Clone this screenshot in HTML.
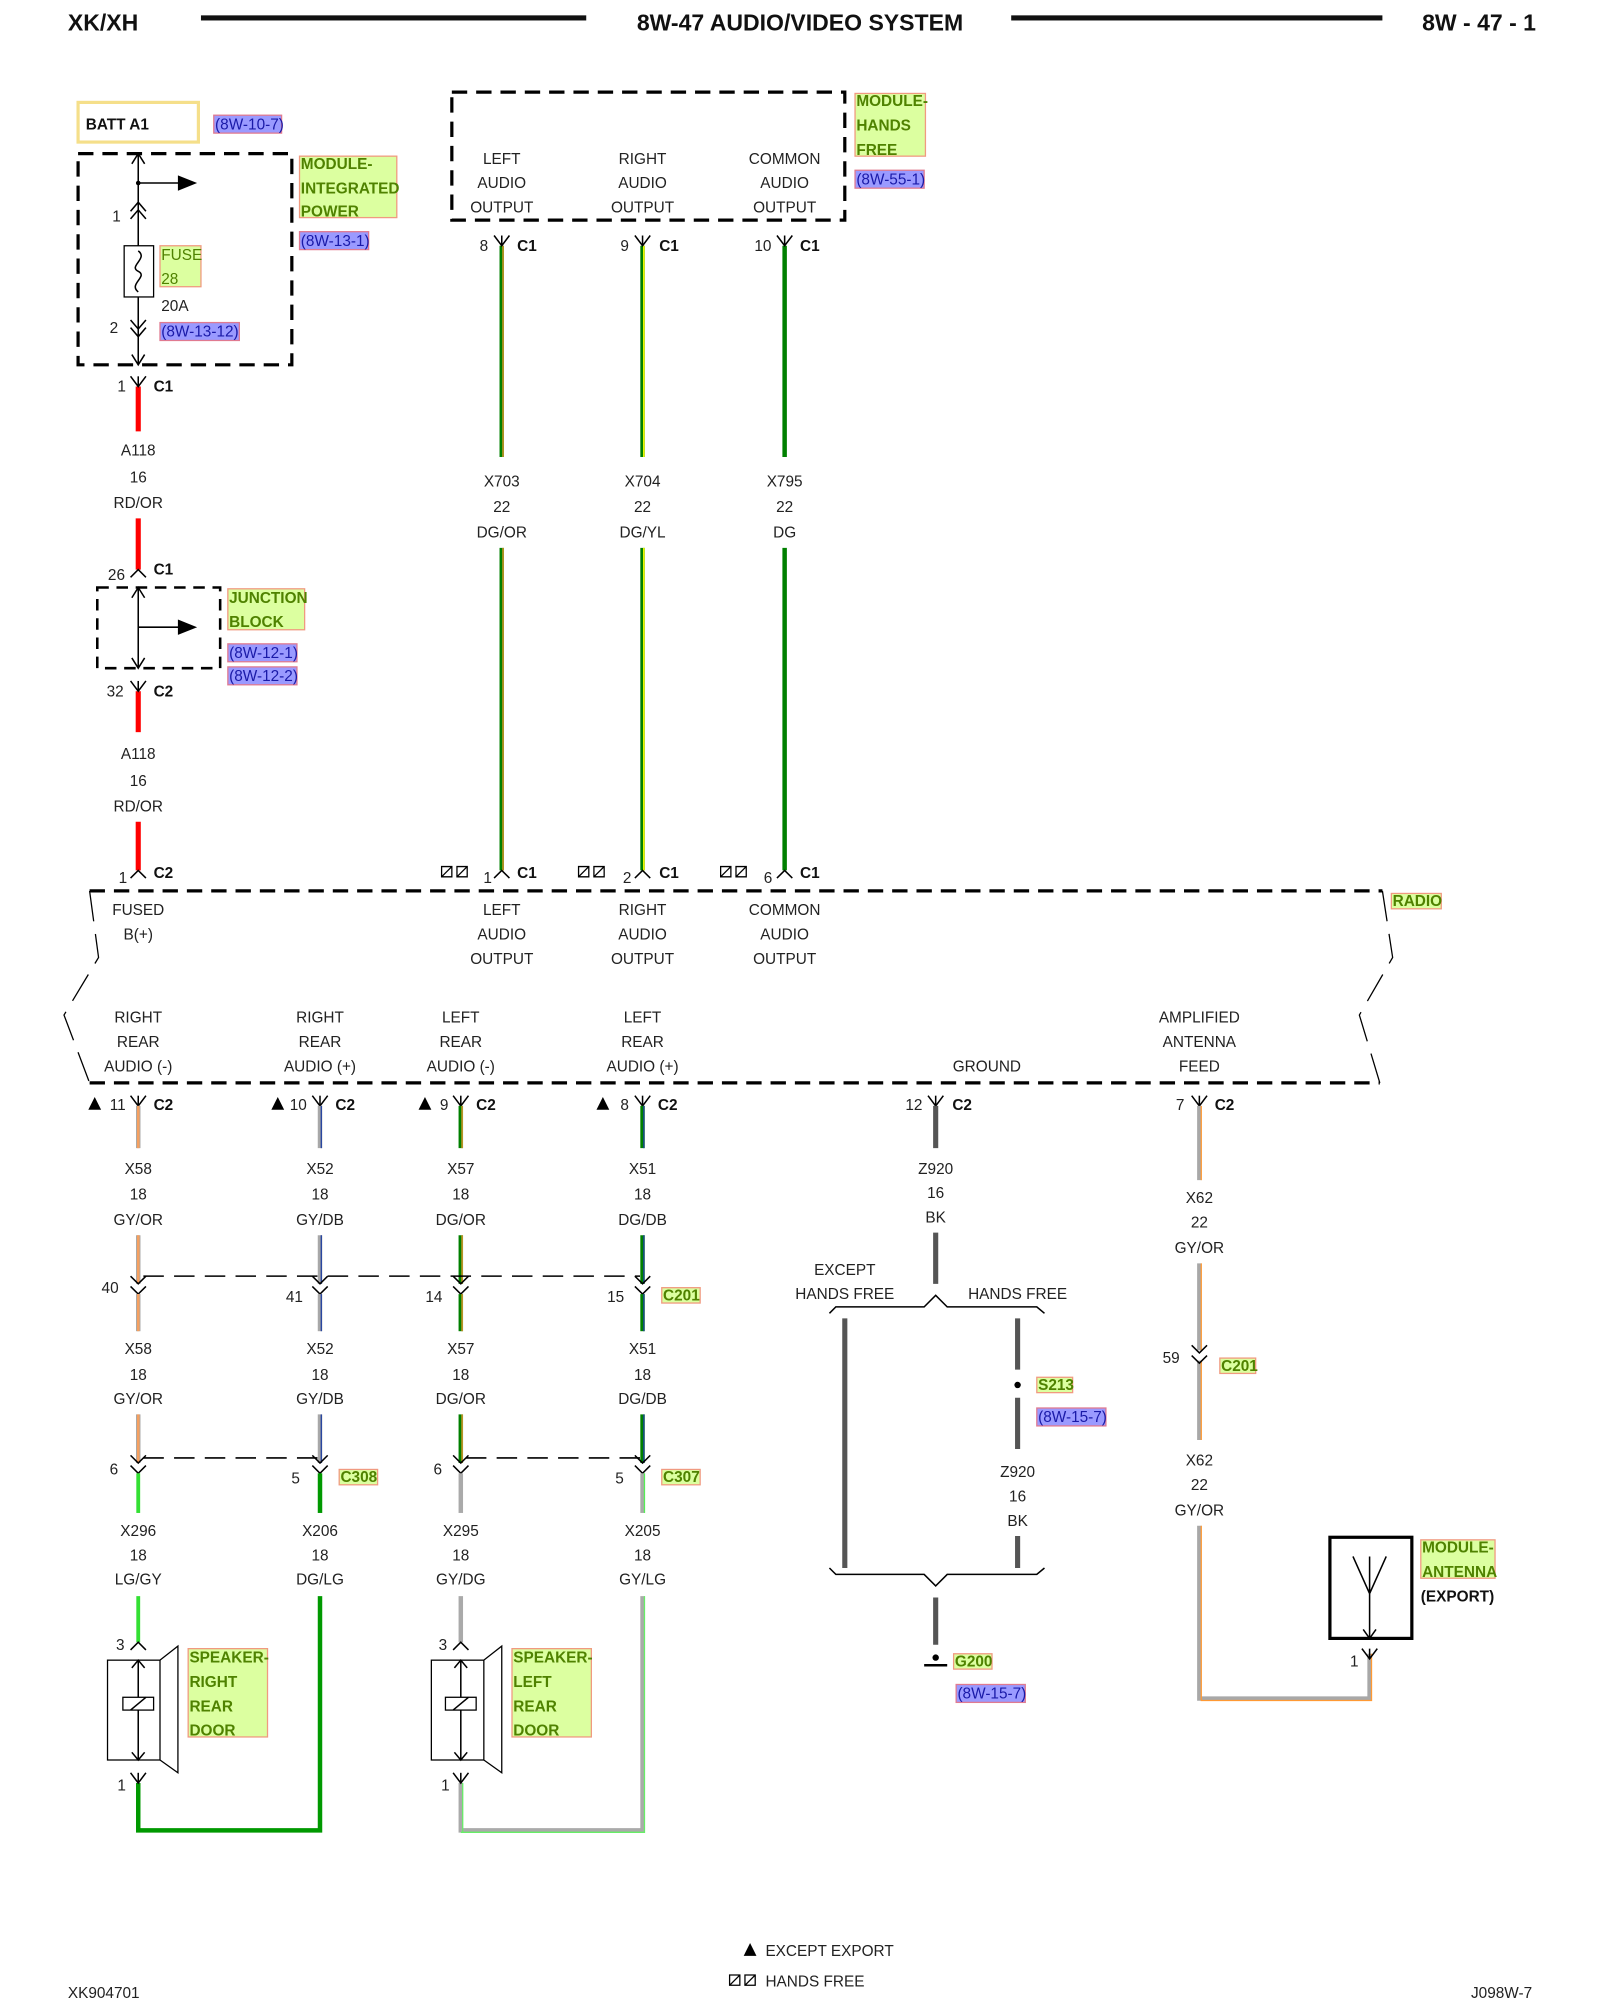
<!DOCTYPE html>
<html><head><meta charset="utf-8"><style>
html,body{margin:0;padding:0;background:#fff}
svg{display:block}
.t{font-family:"Liberation Sans",sans-serif;font-size:12px;fill:#222;text-anchor:middle}
.l{font-family:"Liberation Sans",sans-serif;font-size:12px;fill:#222}
.b{font-family:"Liberation Sans",sans-serif;font-size:12px;font-weight:bold;fill:#111}
.g{font-family:"Liberation Sans",sans-serif;font-size:12px;font-weight:bold;fill:#4f8200}
.p{font-family:"Liberation Sans",sans-serif;font-size:12px;fill:#1a1aa8}
.h{font-family:"Liberation Sans",sans-serif;font-size:18px;font-weight:bold;fill:#111}
.gb{fill:#dcffa0;stroke:#f09a80;stroke-width:1}
.pb{fill:#9a9aff;stroke:#e07a90;stroke-width:1}
.k{stroke:#000;fill:none;stroke-width:1.2}
.dash{stroke:#000;fill:none;stroke-width:2.5;stroke-dasharray:12,7}
</style></head><body>
<svg width="1600" height="2000" viewBox="0 0 1250 1562.5" preserveAspectRatio="none" xmlns="http://www.w3.org/2000/svg">
<defs>
<path id="fy" d="M-6,-8 L0,0 L6,-8" stroke="#000" fill="none" stroke-width="1.2"/>
<path id="my" d="M-6,6 L0,0 L6,6" stroke="#000" fill="none" stroke-width="1.2"/>
<path id="dv" d="M-6,-6 L0,0 L6,-6 M-6,2 L0,8 L6,2" stroke="#000" fill="none" stroke-width="1.2"/>
<path id="hf" d="M0,0 h8 v8 h-8 z M0,8 L8,0" stroke="#000" fill="none" stroke-width="1"/>
</defs>

<!-- header -->
<text class="h" x="53" y="24">XK/XH</text>
<rect x="157" y="12" width="301" height="4" fill="#111"/>
<text class="h" x="625" y="24" text-anchor="middle">8W-47 AUDIO/VIDEO SYSTEM</text>
<rect x="790" y="12" width="290" height="4" fill="#111"/>
<text class="h" x="1200" y="24" text-anchor="end">8W - 47 - 1</text>

<!-- BATT -->
<rect x="61" y="80" width="94" height="31" fill="#fff" stroke="#f5df8a" stroke-width="2.5"/>
<text class="b" x="67" y="101">BATT A1</text>
<rect class="pb" x="167" y="90" width="53" height="14"/><text class="p" x="168" y="101">(8W-10-7)</text>

<!-- integrated power -->
<rect class="dash" x="61" y="120" width="167" height="165"/>
<line class="k" x1="108" y1="120" x2="108" y2="285"/>
<path class="k" d="M103,128 L108,120 L113,128 M103,277 L108,285 L113,277"/>
<circle cx="108" cy="143" r="1.8"/><line class="k" x1="108" y1="143" x2="140" y2="143"/>
<path d="M139,137 L154,143 L139,149 z" fill="#000"/>
<path class="k" d="M102,165 L108,158 L114,165 M102,171 L108,164 L114,171"/>
<text class="t" x="91" y="173">1</text>
<rect x="97" y="192" width="23" height="40" fill="#fff" stroke="#000" stroke-width="1"/>
<path class="k" d="M108,196 C116,202 100,208 108,212 C116,216 100,222 108,228"/>
<rect class="gb" x="125" y="192" width="32" height="32"/><text class="g" x="126" y="203" style="font-weight:normal">FUSE</text><text class="g" x="126" y="222" style="font-weight:normal">28</text>
<text class="l" x="126" y="243">20A</text>
<path class="k" d="M102,250 L108,257 L114,250 M102,256 L108,263 L114,256"/>
<text class="t" x="89" y="260">2</text>
<rect class="pb" x="125" y="252" width="62" height="14"/><text class="p" x="126" y="263">(8W-13-12)</text>
<rect class="gb" x="234" y="122" width="76" height="48"/>
<text class="g" x="235" y="132">MODULE-</text><text class="g" x="235" y="151">INTEGRATED</text><text class="g" x="235" y="169">POWER</text>
<rect class="pb" x="234" y="181" width="54" height="14"/><text class="p" x="235" y="192">(8W-13-1)</text>

<!-- red wire -->
<line x1="108" y1="302" x2="108" y2="337" stroke="#f00" stroke-width="4"/>
<use href="#fy" x="108" y="302"/><line class="k" x1="108" y1="294" x2="108" y2="302"/>
<text class="t" x="95" y="306">1</text><text class="b" x="120" y="306">C1</text>
<text class="t" x="108" y="356">A118</text><text class="t" x="108" y="377">16</text><text class="t" x="108" y="397">RD/OR</text>
<line x1="108" y1="405" x2="108" y2="445" stroke="#f00" stroke-width="4"/>
<use href="#my" x="108" y="445"/>
<text class="t" x="91" y="453">26</text><text class="b" x="120" y="449">C1</text>

<rect x="76" y="459" width="96" height="63" fill="none" stroke="#000" stroke-width="2" stroke-dasharray="9,6"/>
<line class="k" x1="108" y1="459" x2="108" y2="522"/>
<path class="k" d="M103,467 L108,459 L113,467 M103,514 L108,522 L113,514"/>
<line class="k" x1="108" y1="490" x2="140" y2="490"/><path d="M139,484 L154,490 L139,496 z" fill="#000"/>
<rect class="gb" x="178" y="460" width="60" height="32"/><text class="g" x="179" y="471">JUNCTION</text><text class="g" x="179" y="490">BLOCK</text>
<rect class="pb" x="178" y="503" width="54" height="14"/><text class="p" x="179" y="514">(8W-12-1)</text>
<rect class="pb" x="178" y="521" width="54" height="14"/><text class="p" x="179" y="532">(8W-12-2)</text>

<line x1="108" y1="540" x2="108" y2="572" stroke="#f00" stroke-width="4"/>
<use href="#fy" x="108" y="540"/><line class="k" x1="108" y1="532" x2="108" y2="540"/>
<text class="t" x="90" y="544">32</text><text class="b" x="120" y="544">C2</text>
<text class="t" x="108" y="593">A118</text><text class="t" x="108" y="614">16</text><text class="t" x="108" y="634">RD/OR</text>
<line x1="108" y1="642" x2="108" y2="680" stroke="#f00" stroke-width="4"/>
<use href="#my" x="108" y="680"/>
<text class="t" x="96" y="690">1</text><text class="b" x="120" y="686">C2</text>

<!-- hands free module -->
<rect class="dash" x="353" y="72" width="307" height="100"/>
<text class="t" x="392" y="128">LEFT</text><text class="t" x="392" y="147">AUDIO</text><text class="t" x="392" y="166">OUTPUT</text>
<text class="t" x="502" y="128">RIGHT</text><text class="t" x="502" y="147">AUDIO</text><text class="t" x="502" y="166">OUTPUT</text>
<text class="t" x="613" y="128">COMMON</text><text class="t" x="613" y="147">AUDIO</text><text class="t" x="613" y="166">OUTPUT</text>
<rect class="gb" x="668" y="73" width="55" height="49"/>
<text class="g" x="669" y="83">MODULE-</text><text class="g" x="669" y="102">HANDS</text><text class="g" x="669" y="121">FREE</text>
<rect class="pb" x="668" y="133" width="54" height="14"/><text class="p" x="669" y="144">(8W-55-1)</text>

<!-- three audio wires -->
<g>
<line x1="392" y1="192" x2="392" y2="357" stroke="#008000" stroke-width="3.5"/><line x1="393" y1="192" x2="393" y2="357" stroke="#ff9933" stroke-width="1"/>
<line x1="392" y1="428" x2="392" y2="680" stroke="#008000" stroke-width="3.5"/><line x1="393" y1="428" x2="393" y2="680" stroke="#ff9933" stroke-width="1"/>
<line x1="502" y1="192" x2="502" y2="357" stroke="#008000" stroke-width="3.5"/><line x1="503" y1="192" x2="503" y2="357" stroke="#ffff00" stroke-width="1.2"/>
<line x1="502" y1="428" x2="502" y2="680" stroke="#008000" stroke-width="3.5"/><line x1="503" y1="428" x2="503" y2="680" stroke="#ffff00" stroke-width="1.2"/>
<line x1="613" y1="192" x2="613" y2="357" stroke="#008000" stroke-width="3.5"/>
<line x1="613" y1="428" x2="613" y2="680" stroke="#008000" stroke-width="3.5"/>
</g>
<use href="#fy" x="392" y="192"/><line class="k" x1="392" y1="184" x2="392" y2="192"/>
<use href="#fy" x="502" y="192"/><line class="k" x1="502" y1="184" x2="502" y2="192"/>
<use href="#fy" x="613" y="192"/><line class="k" x1="613" y1="184" x2="613" y2="192"/>
<text class="t" x="378" y="196">8</text><text class="b" x="404" y="196">C1</text>
<text class="t" x="488" y="196">9</text><text class="b" x="515" y="196">C1</text>
<text class="t" x="596" y="196">10</text><text class="b" x="625" y="196">C1</text>
<text class="t" x="392" y="380">X703</text><text class="t" x="392" y="400">22</text><text class="t" x="392" y="420">DG/OR</text>
<text class="t" x="502" y="380">X704</text><text class="t" x="502" y="400">22</text><text class="t" x="502" y="420">DG/YL</text>
<text class="t" x="613" y="380">X795</text><text class="t" x="613" y="400">22</text><text class="t" x="613" y="420">DG</text>
<use href="#my" x="392" y="680"/><use href="#my" x="502" y="680"/><use href="#my" x="613" y="680"/>
<use href="#hf" x="345" y="677"/><use href="#hf" x="357" y="677"/>
<use href="#hf" x="452" y="677"/><use href="#hf" x="464" y="677"/>
<use href="#hf" x="563" y="677"/><use href="#hf" x="575" y="677"/>
<text class="t" x="381" y="690">1</text><text class="b" x="404" y="686">C1</text>
<text class="t" x="490" y="690">2</text><text class="b" x="515" y="686">C1</text>
<text class="t" x="600" y="690">6</text><text class="b" x="625" y="686">C1</text>

<!-- radio -->
<line class="dash" x1="70" y1="696" x2="1080" y2="696"/>
<line class="dash" x1="70" y1="846" x2="1078" y2="846"/>
<path d="M70,696 L77,748 L50,793 L70,846" fill="none" stroke="#000" stroke-width="1" stroke-dasharray="24,10"/>
<path d="M1080,696 L1088,748 L1062,793 L1078,846" fill="none" stroke="#000" stroke-width="1" stroke-dasharray="24,10"/>
<rect class="gb" x="1087" y="698" width="39" height="12"/><text class="g" x="1088" y="708">RADIO</text>
<text class="t" x="108" y="715">FUSED</text><text class="t" x="108" y="734">B(+)</text>
<text class="t" x="392" y="715">LEFT</text><text class="t" x="392" y="734">AUDIO</text><text class="t" x="392" y="753">OUTPUT</text>
<text class="t" x="502" y="715">RIGHT</text><text class="t" x="502" y="734">AUDIO</text><text class="t" x="502" y="753">OUTPUT</text>
<text class="t" x="613" y="715">COMMON</text><text class="t" x="613" y="734">AUDIO</text><text class="t" x="613" y="753">OUTPUT</text>
<text class="t" x="108" y="799">RIGHT</text><text class="t" x="108" y="818">REAR</text><text class="t" x="108" y="837">AUDIO (-)</text>
<text class="t" x="250" y="799">RIGHT</text><text class="t" x="250" y="818">REAR</text><text class="t" x="250" y="837">AUDIO (+)</text>
<text class="t" x="360" y="799">LEFT</text><text class="t" x="360" y="818">REAR</text><text class="t" x="360" y="837">AUDIO (-)</text>
<text class="t" x="502" y="799">LEFT</text><text class="t" x="502" y="818">REAR</text><text class="t" x="502" y="837">AUDIO (+)</text>
<text class="t" x="771" y="837">GROUND</text>
<text class="t" x="937" y="799">AMPLIFIED</text><text class="t" x="937" y="818">ANTENNA</text><text class="t" x="937" y="837">FEED</text>

<!-- C2 bottom connectors -->
<g>
<use href="#fy" x="108" y="864"/><line class="k" x1="108" y1="856" x2="108" y2="864"/>
<use href="#fy" x="250" y="864"/><line class="k" x1="250" y1="856" x2="250" y2="864"/>
<use href="#fy" x="360" y="864"/><line class="k" x1="360" y1="856" x2="360" y2="864"/>
<use href="#fy" x="502" y="864"/><line class="k" x1="502" y1="856" x2="502" y2="864"/>
<use href="#fy" x="731" y="864"/><line class="k" x1="731" y1="856" x2="731" y2="864"/>
<use href="#fy" x="937" y="864"/><line class="k" x1="937" y1="856" x2="937" y2="864"/>
</g>
<path d="M69,867 L74,857 L79,867 z M212,867 L217,857 L222,867 z M327,867 L332,857 L337,867 z M466,867 L471,857 L476,867 z" fill="#000"/>
<text class="t" x="92" y="867">11</text><text class="b" x="120" y="867">C2</text>
<text class="t" x="233" y="867">10</text><text class="b" x="262" y="867">C2</text>
<text class="t" x="347" y="867">9</text><text class="b" x="372" y="867">C2</text>
<text class="t" x="488" y="867">8</text><text class="b" x="514" y="867">C2</text>
<text class="t" x="714" y="867">12</text><text class="b" x="744" y="867">C2</text>
<text class="t" x="922" y="867">7</text><text class="b" x="949" y="867">C2</text>

<!-- wires section 1 -->
<g>
<line x1="108" y1="864" x2="108" y2="897" stroke="#a8a8a8" stroke-width="3.5"/><line x1="108" y1="864" x2="108" y2="897" stroke="#f5a060" stroke-width="2"/>
<line x1="108" y1="965" x2="108" y2="1003" stroke="#a8a8a8" stroke-width="3.5"/><line x1="108" y1="965" x2="108" y2="1003" stroke="#f5a060" stroke-width="2"/>
<line x1="250" y1="864" x2="250" y2="897" stroke="#a8a8a8" stroke-width="3.5"/><line x1="251" y1="864" x2="251" y2="897" stroke="#1f3fa0" stroke-width="1"/>
<line x1="250" y1="965" x2="250" y2="1003" stroke="#a8a8a8" stroke-width="3.5"/><line x1="251" y1="965" x2="251" y2="1003" stroke="#1f3fa0" stroke-width="1"/>
<line x1="360" y1="864" x2="360" y2="897" stroke="#008000" stroke-width="3.5"/><line x1="361" y1="864" x2="361" y2="897" stroke="#ff9933" stroke-width="1"/>
<line x1="360" y1="965" x2="360" y2="1003" stroke="#008000" stroke-width="3.5"/><line x1="361" y1="965" x2="361" y2="1003" stroke="#ff9933" stroke-width="1"/>
<line x1="502" y1="864" x2="502" y2="897" stroke="#008000" stroke-width="3.5"/><line x1="503" y1="864" x2="503" y2="897" stroke="#1f3fa0" stroke-width="1"/>
<line x1="502" y1="965" x2="502" y2="1003" stroke="#008000" stroke-width="3.5"/><line x1="503" y1="965" x2="503" y2="1003" stroke="#1f3fa0" stroke-width="1"/>
</g>
<text class="t" x="108" y="917">X58</text><text class="t" x="108" y="937">18</text><text class="t" x="108" y="957">GY/OR</text>
<text class="t" x="250" y="917">X52</text><text class="t" x="250" y="937">18</text><text class="t" x="250" y="957">GY/DB</text>
<text class="t" x="360" y="917">X57</text><text class="t" x="360" y="937">18</text><text class="t" x="360" y="957">DG/OR</text>
<text class="t" x="502" y="917">X51</text><text class="t" x="502" y="937">18</text><text class="t" x="502" y="957">DG/DB</text>

<!-- C201 -->
<line x1="112" y1="997" x2="500" y2="997" stroke="#000" stroke-width="1.2" stroke-dasharray="16,8"/>
<use href="#dv" x="108" y="1003"/><use href="#dv" x="250" y="1003"/><use href="#dv" x="360" y="1003"/><use href="#dv" x="502" y="1003"/>
<text class="t" x="86" y="1010">40</text><text class="t" x="230" y="1017">41</text><text class="t" x="339" y="1017">14</text><text class="t" x="481" y="1017">15</text>
<rect class="gb" x="517" y="1006" width="30" height="12"/><text class="g" x="518" y="1016">C201</text>

<g>
<line x1="108" y1="1011" x2="108" y2="1040" stroke="#a8a8a8" stroke-width="3.5"/><line x1="108" y1="1011" x2="108" y2="1040" stroke="#f5a060" stroke-width="2"/>
<line x1="108" y1="1105" x2="108" y2="1143" stroke="#a8a8a8" stroke-width="3.5"/><line x1="108" y1="1105" x2="108" y2="1143" stroke="#f5a060" stroke-width="2"/>
<line x1="250" y1="1011" x2="250" y2="1040" stroke="#a8a8a8" stroke-width="3.5"/><line x1="251" y1="1011" x2="251" y2="1040" stroke="#1f3fa0" stroke-width="1"/>
<line x1="250" y1="1105" x2="250" y2="1143" stroke="#a8a8a8" stroke-width="3.5"/><line x1="251" y1="1105" x2="251" y2="1143" stroke="#1f3fa0" stroke-width="1"/>
<line x1="360" y1="1011" x2="360" y2="1040" stroke="#008000" stroke-width="3.5"/><line x1="361" y1="1011" x2="361" y2="1040" stroke="#ff9933" stroke-width="1"/>
<line x1="360" y1="1105" x2="360" y2="1143" stroke="#008000" stroke-width="3.5"/><line x1="361" y1="1105" x2="361" y2="1143" stroke="#ff9933" stroke-width="1"/>
<line x1="502" y1="1011" x2="502" y2="1040" stroke="#008000" stroke-width="3.5"/><line x1="503" y1="1011" x2="503" y2="1040" stroke="#1f3fa0" stroke-width="1"/>
<line x1="502" y1="1105" x2="502" y2="1143" stroke="#008000" stroke-width="3.5"/><line x1="503" y1="1105" x2="503" y2="1143" stroke="#1f3fa0" stroke-width="1"/>
</g>
<text class="t" x="108" y="1058">X58</text><text class="t" x="108" y="1078">18</text><text class="t" x="108" y="1097">GY/OR</text>
<text class="t" x="250" y="1058">X52</text><text class="t" x="250" y="1078">18</text><text class="t" x="250" y="1097">GY/DB</text>
<text class="t" x="360" y="1058">X57</text><text class="t" x="360" y="1078">18</text><text class="t" x="360" y="1097">DG/OR</text>
<text class="t" x="502" y="1058">X51</text><text class="t" x="502" y="1078">18</text><text class="t" x="502" y="1097">DG/DB</text>

<!-- C308 / C307 -->
<line x1="112" y1="1139" x2="248" y2="1139" stroke="#000" stroke-width="1.2" stroke-dasharray="16,8"/>
<line x1="364" y1="1139" x2="500" y2="1139" stroke="#000" stroke-width="1.2" stroke-dasharray="16,8"/>
<use href="#dv" x="108" y="1143"/><use href="#dv" x="250" y="1143"/><use href="#dv" x="360" y="1143"/><use href="#dv" x="502" y="1143"/>
<text class="t" x="89" y="1152">6</text><text class="t" x="231" y="1159">5</text><text class="t" x="342" y="1152">6</text><text class="t" x="484" y="1159">5</text>
<rect class="gb" x="265" y="1148" width="30" height="12"/><text class="g" x="266" y="1158">C308</text>
<rect class="gb" x="517" y="1148" width="30" height="12"/><text class="g" x="518" y="1158">C307</text>

<g>
<line x1="108" y1="1151" x2="108" y2="1182" stroke="#33e033" stroke-width="3"/>
<line x1="108" y1="1247" x2="108" y2="1283" stroke="#33e033" stroke-width="3"/>
<line x1="250" y1="1151" x2="250" y2="1182" stroke="#009900" stroke-width="3.5"/>
<polyline points="250,1247 250,1430 108,1430 108,1393" fill="none" stroke="#009900" stroke-width="3.5"/>
<line x1="360" y1="1151" x2="360" y2="1182" stroke="#aaaaaa" stroke-width="3.5"/>
<line x1="360" y1="1247" x2="360" y2="1283" stroke="#aaaaaa" stroke-width="3.5"/>
<line x1="502" y1="1151" x2="502" y2="1182" stroke="#aaaaaa" stroke-width="3.5"/><line x1="503.5" y1="1151" x2="503.5" y2="1182" stroke="#55ee55" stroke-width="1"/>
<polyline points="502,1247 502,1430 360,1430 360,1393" fill="none" stroke="#aaaaaa" stroke-width="3.5"/>
<polyline points="503.5,1247 503.5,1431.5 360,1431.5" fill="none" stroke="#66ee66" stroke-width="1"/>
<line x1="361.5" y1="1393" x2="361.5" y2="1431" stroke="#66ee66" stroke-width="1"/>
</g>
<text class="t" x="108" y="1200">X296</text><text class="t" x="108" y="1219">18</text><text class="t" x="108" y="1238">LG/GY</text>
<text class="t" x="250" y="1200">X206</text><text class="t" x="250" y="1219">18</text><text class="t" x="250" y="1238">DG/LG</text>
<text class="t" x="360" y="1200">X295</text><text class="t" x="360" y="1219">18</text><text class="t" x="360" y="1238">GY/DG</text>
<text class="t" x="502" y="1200">X205</text><text class="t" x="502" y="1219">18</text><text class="t" x="502" y="1238">GY/LG</text>

<!-- speakers -->
<g>
<use href="#my" x="108" y="1283"/><text class="t" x="94" y="1289">3</text>
<rect x="84" y="1297" width="41" height="78" fill="#fff" stroke="#000" stroke-width="1"/>
<path class="k" style="stroke-width:1" d="M125,1297 L139,1286 L139,1385 L125,1375"/>
<line class="k" x1="108" y1="1297" x2="108" y2="1375"/>
<path class="k" d="M103,1303 L108,1297 L113,1303 M103,1369 L108,1375 L113,1369"/>
<rect x="96" y="1326" width="24" height="10" fill="#fff" stroke="#000" stroke-width="1"/><line class="k" x1="102" y1="1336" x2="114" y2="1326"/>
<use href="#fy" x="108" y="1393"/><line class="k" x1="108" y1="1385" x2="108" y2="1393"/><text class="t" x="95" y="1399">1</text>
<rect class="gb" x="147" y="1288" width="62" height="69"/>
<text class="g" x="148" y="1299">SPEAKER-</text><text class="g" x="148" y="1318">RIGHT</text><text class="g" x="148" y="1337">REAR</text><text class="g" x="148" y="1356">DOOR</text>
</g>
<g>
<use href="#my" x="360" y="1283"/><text class="t" x="346" y="1289">3</text>
<rect x="337" y="1297" width="41" height="78" fill="#fff" stroke="#000" stroke-width="1"/>
<path class="k" style="stroke-width:1" d="M378,1297 L392,1286 L392,1385 L378,1375"/>
<line class="k" x1="360" y1="1297" x2="360" y2="1375"/>
<path class="k" d="M355,1303 L360,1297 L365,1303 M355,1369 L360,1375 L365,1369"/>
<rect x="348" y="1326" width="24" height="10" fill="#fff" stroke="#000" stroke-width="1"/><line class="k" x1="354" y1="1336" x2="366" y2="1326"/>
<use href="#fy" x="360" y="1393"/><line class="k" x1="360" y1="1385" x2="360" y2="1393"/><text class="t" x="348" y="1399">1</text>
<rect class="gb" x="400" y="1288" width="62" height="69"/>
<text class="g" x="401" y="1299">SPEAKER-</text><text class="g" x="401" y="1318">LEFT</text><text class="g" x="401" y="1337">REAR</text><text class="g" x="401" y="1356">DOOR</text>
</g>

<!-- ground -->
<g stroke="#555" stroke-width="4">
<line x1="731" y1="864" x2="731" y2="897"/>
<line x1="731" y1="963" x2="731" y2="1003"/>
<line x1="660" y1="1030" x2="660" y2="1225"/>
<line x1="795" y1="1030" x2="795" y2="1070"/>
<line x1="795" y1="1092" x2="795" y2="1132"/>
<line x1="795" y1="1200" x2="795" y2="1225"/>
<line x1="731" y1="1248" x2="731" y2="1285"/>
</g>
<text class="t" x="731" y="917">Z920</text><text class="t" x="731" y="936">16</text><text class="t" x="731" y="955">BK</text>
<text class="t" x="660" y="996">EXCEPT</text><text class="t" x="660" y="1015">HANDS FREE</text><text class="t" x="795" y="1015">HANDS FREE</text>
<path class="k" d="M648,1026 L653,1021 L722,1021 L731,1012 L740,1021 L810,1021 L816,1026"/>
<circle cx="795" cy="1082" r="2.5" fill="#000"/>
<rect class="gb" x="810" y="1076" width="28" height="12"/><text class="g" x="811" y="1086">S213</text>
<rect class="pb" x="810" y="1100" width="54" height="14"/><text class="p" x="811" y="1111">(8W-15-7)</text>
<text class="t" x="795" y="1154">Z920</text><text class="t" x="795" y="1173">16</text><text class="t" x="795" y="1192">BK</text>
<path class="k" d="M648,1225 L653,1230 L722,1230 L731,1239 L740,1230 L810,1230 L816,1225"/>
<circle cx="731" cy="1295" r="2.5" fill="#000"/>
<line x1="722" y1="1301" x2="740" y2="1301" stroke="#000" stroke-width="2"/>
<rect class="gb" x="745" y="1292" width="30" height="12"/><text class="g" x="746" y="1302">G200</text>
<rect class="pb" x="747" y="1316" width="54" height="14"/><text class="p" x="748" y="1327">(8W-15-7)</text>

<!-- antenna -->
<g>
<line x1="937" y1="864" x2="937" y2="922" stroke="#a8a8a8" stroke-width="3.5"/><line x1="938.5" y1="864" x2="938.5" y2="922" stroke="#ff9933" stroke-width="1"/>
<line x1="937" y1="987" x2="937" y2="1055" stroke="#a8a8a8" stroke-width="3.5"/><line x1="938.5" y1="987" x2="938.5" y2="1055" stroke="#ff9933" stroke-width="1"/>
<line x1="937" y1="1063" x2="937" y2="1125" stroke="#a8a8a8" stroke-width="3.5"/><line x1="938.5" y1="1063" x2="938.5" y2="1125" stroke="#ff9933" stroke-width="1"/>
<polyline points="937,1192 937,1327 1070,1327 1070,1292" fill="none" stroke="#a8a8a8" stroke-width="3.5"/>
<polyline points="938.5,1192 938.5,1328.5 1071.5,1328.5 1071.5,1292" fill="none" stroke="#ff9933" stroke-width="1"/>
</g>
<text class="t" x="937" y="940">X62</text><text class="t" x="937" y="959">22</text><text class="t" x="937" y="979">GY/OR</text>
<use href="#dv" x="937" y="1057"/>
<text class="t" x="915" y="1065">59</text>
<rect class="gb" x="953" y="1061" width="28" height="12"/><text class="g" x="954" y="1071">C201</text>
<text class="t" x="937" y="1145">X62</text><text class="t" x="937" y="1164">22</text><text class="t" x="937" y="1184">GY/OR</text>
<rect x="1039" y="1201" width="64" height="79" fill="#fff" stroke="#000" stroke-width="2.5"/>
<path class="k" d="M1057,1216 L1070,1245 L1083,1216 M1070,1216 L1070,1280 M1065,1273 L1070,1280 L1075,1273"/>
<use href="#fy" x="1070" y="1296"/><line class="k" x1="1070" y1="1288" x2="1070" y2="1296"/>
<text class="t" x="1058" y="1302">1</text>
<rect class="gb" x="1110" y="1203" width="58" height="30"/><text class="g" x="1111" y="1213">MODULE-</text><text class="g" x="1111" y="1232">ANTENNA</text>
<text class="b" x="1110" y="1251">(EXPORT)</text>

<!-- footer -->
<path d="M581,1528 L586,1518 L591,1528 z" fill="#000"/>
<text class="l" x="598" y="1528">EXCEPT EXPORT</text>
<use href="#hf" x="570" y="1543"/><use href="#hf" x="582" y="1543"/>
<text class="l" x="598" y="1552">HANDS FREE</text>
<text class="l" x="53" y="1561">XK904701</text>
<text class="l" x="1197" y="1561" text-anchor="end">J098W-7</text>
</svg>
</body></html>
